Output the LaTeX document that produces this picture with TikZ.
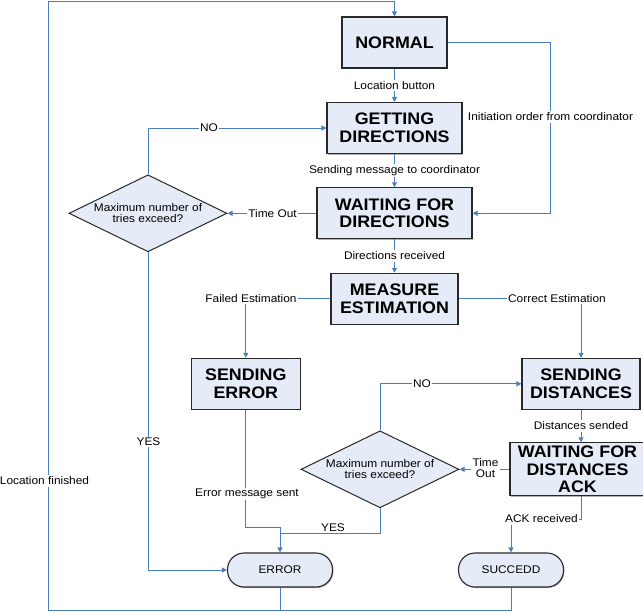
\documentclass[tikz,border=0pt]{standalone}
\usepackage{fontspec}
\setmainfont{Liberation Sans}[FakeStretch=1.07]
\usetikzlibrary{arrows.meta,shapes.geometric,shadows}

\definecolor{boxfill}{RGB}{230,236,247}
\definecolor{flowblue}{RGB}{74,126,187}
\definecolor{rimgray}{RGB}{40,40,40}

\tikzset{
  boxshadow/.style={drop shadow={shadow xshift=1pt,shadow yshift=-1pt,fill=black!60,opacity=0.5}},
  state/.style={draw=rimgray, line width=1.1pt, fill=boxfill, align=center, inner sep=0pt,
    font=\fontsize{16.7}{17.7}\selectfont\bfseries, boxshadow},
  decision/.style={shape=diamond, draw=rimgray, line width=1pt, fill=boxfill, align=center,
    inner sep=0pt, shape aspect=2.05, minimum width=158, minimum height=77,
    font=\fontsize{11.1}{11.3}\selectfont},
  terminal/.style={draw=rimgray, line width=1.1pt, fill=boxfill, rounded corners=16.5pt,
    minimum width=105, minimum height=34, inner sep=0pt, font=\fontsize{11.1}{11.5}\selectfont, boxshadow},
  flow/.style={draw=flowblue, line width=0.9pt},
  arr/.style={-{Triangle[length=5pt,width=5pt]}},
  lab/.style={fill=white, inner sep=1.5pt, align=center, font=\fontsize{11.1}{11}\selectfont}
}

\begin{document}
\begin{tikzpicture}[x=1pt,y=-1pt]
\useasboundingbox (0,0) rectangle (643,614);

% states
\node[state, minimum width=105, minimum height=51] (normal)   at (394.5,42.5)  {NORMAL};
\node[state, minimum width=135, minimum height=51] (getdir)   at (394.5,128)   {GETTING\\DIRECTIONS};
\node[state, minimum width=155, minimum height=51] (waitdir)  at (394.5,213.3) {WAITING FOR\\DIRECTIONS};
\node[state, minimum width=127, minimum height=51] (measure)  at (394.5,298.8) {MEASURE\\ESTIMATION};
\node[state, minimum width=109, minimum height=51] (senderr)  at (245.8,383.8) {SENDING\\ERROR};
\node[state, minimum width=118, minimum height=51] (senddist) at (581,383.8)   {SENDING\\DISTANCES};
\node[state, minimum width=135, minimum height=53] (waitack)  at (577.5,469.3) {WAITING FOR\\DISTANCES\\ACK};

% decisions
\node[decision] (triesA) at (148,213.3) {Maximum number of\\tries exceed?};
\node[decision] (triesB) at (380,469.3) {Maximum number of\\tries exceed?};

% end states
\node[terminal] (errorn) at (280,570) {ERROR};
\node[terminal] (succ)   at (511,570) {SUCCEDD};

% return loop to NORMAL
\draw[flow, arr] (succ.south) |- (48,610) |- (normal.north |- 0,1) -- (normal.north);
\draw[flow] (errorn.south) -- (errorn.south |- 0,610);

% main flow
\draw[flow, arr] (normal) -- (getdir);
\draw[flow, arr] (normal.east) -| (550,213.3) -- (waitdir.east);
\draw[flow, arr] (getdir) -- (waitdir);
\draw[flow, arr] (waitdir.west) -- (triesA.east);
\draw[flow, arr] (triesA.north) |- (getdir.west);
\draw[flow, arr] (triesA.south) |- (errorn.west);
\draw[flow, arr] (waitdir) -- (measure);
\draw[flow, arr] (measure.west) -| (senderr.north);
\draw[flow, arr] (measure.east) -| (senddist.north);
\draw[flow, arr] (senddist.south) -- (senddist.south |- waitack.north);
\draw[flow, arr] (waitack.west) -- (triesB.east);
\draw[flow, arr] (triesB.north) |- (senddist.west);
\draw[flow, arr] (senderr.south) |- (errorn.north |- 0,527) -- (errorn.north);
\draw[flow] (triesB.south) |- (errorn.north |- 0,533);
\draw[flow, arr] (senddist.south |- waitack.south) |- (succ.north |- 0,519) -- (succ.north);

% connector labels
\node[lab] (lLoc)   at (394.5,85.4)  {Location button};
\node[lab] (lInit)  at (550.5,117)   {Initiation order from coordinator};
\node[lab] (lSend)  at (394.5,170.5) {Sending message to coordinator};
\node[lab] (lTime)  at (272.5,213.3) {Time Out};
\node[lab] (lNoA)   at (209,128)     {NO};
\node[lab] (lDirR)  at (394.5,256)   {Directions received};
\node[lab] (lFail)  at (251,298.5)   {Failed Estimation};
\node[lab] (lCorr)  at (557,298.5)   {Correct Estimation};
\node[lab] (lNoB)   at (422,383.5)   {NO};
\node[lab] (lYesA)  at (148.5,442)   {YES};
\node[lab] (lDist)  at (581,426)     {Distances sended};
\node[lab] (lTimeB) at (485.5,468.5) {Time\\Out};
\node[lab] (lFin)   at (44.5,481)    {Location finished};
\node[lab] (lErr)   at (247,494)     {Error message sent};
\node[lab] (lYesB)  at (333,527.5)   {YES};
\node[lab] (lAck)   at (541.5,519)   {ACK received};
\end{tikzpicture}
\end{document}
